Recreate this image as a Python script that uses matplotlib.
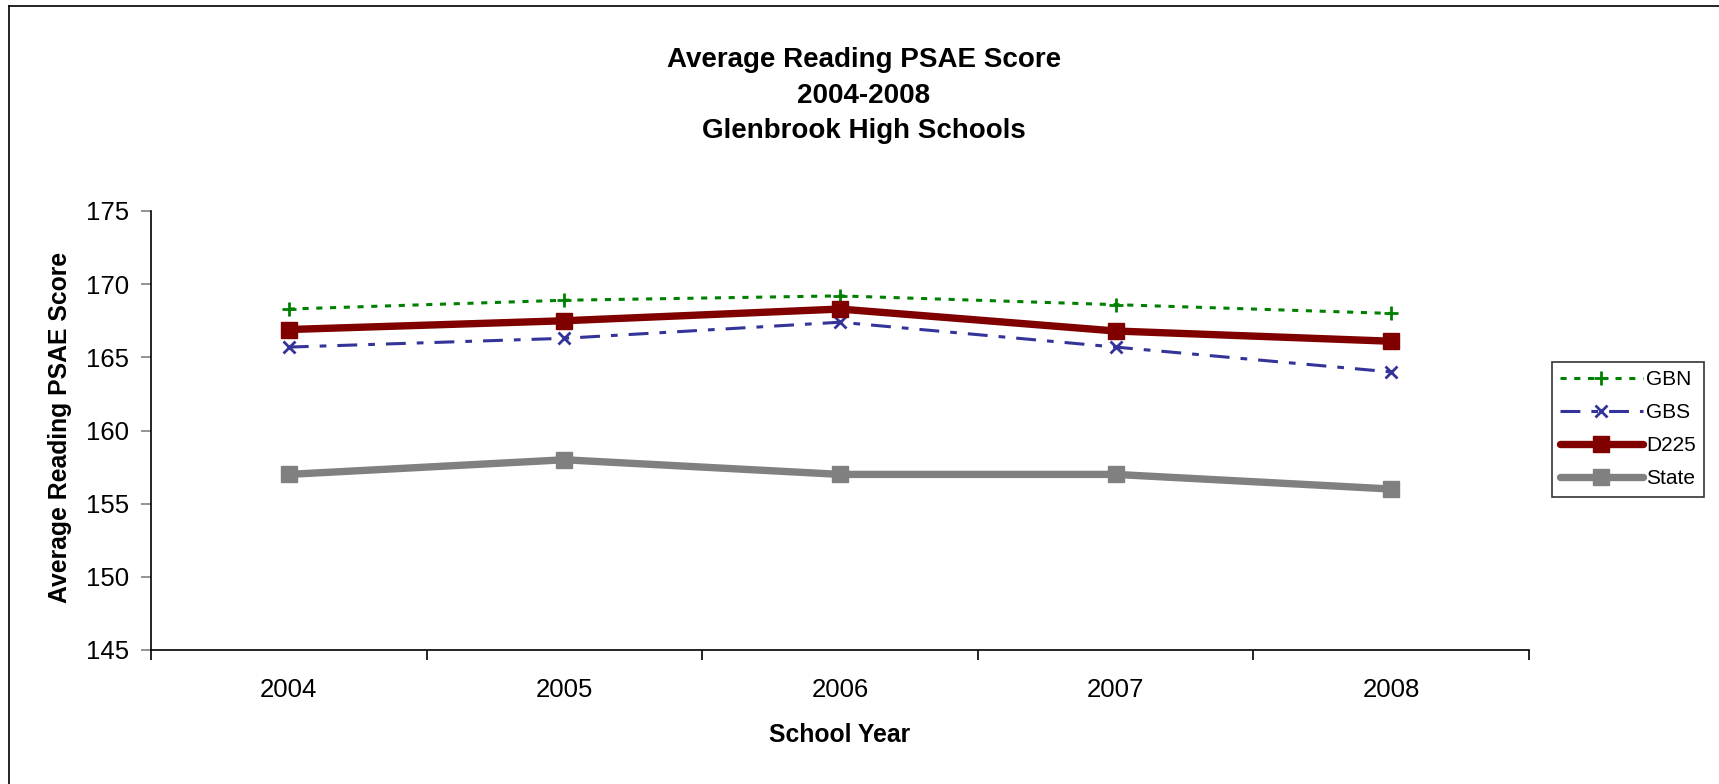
import matplotlib
matplotlib.use("Agg")
import matplotlib.pyplot as plt
from matplotlib.lines import Line2D
import numpy as np

years = ["2004", "2005", "2006", "2007", "2008"]
gbn = [168.3, 168.9, 169.2, 168.6, 168.0]
gbs = [165.7, 166.3, 167.4, 165.7, 164.0]
d225 = [166.9, 167.5, 168.3, 166.8, 166.1]
state = [157.0, 158.0, 157.0, 157.0, 156.0]
yticks = [145, 150, 155, 160, 165, 170, 175]

plt.rcParams['font.family'] = ['Liberation Sans', 'DejaVu Sans']

W, H = 1719, 784
fig = plt.figure(figsize=(W / 100, H / 100), dpi=100)
ax = fig.add_axes([151 / W, 1 - 650 / H, (1529 - 151) / W, (650 - 211) / H])

x = np.arange(len(years))
ax.plot(x, gbn, color='#008000', lw=2.2, ls=(0, (2, 2.5)), marker='+', ms=10, mew=2, label='GBN', zorder=3)
ax.plot(x, gbs, color='#333399', lw=2.2, ls=(0, (6.5, 3.6, 2.2, 3.6)), marker='x', ms=8, mew=2, label='GBS', zorder=3)
ax.plot(x, d225, color='#800000', lw=5.3, marker='s', ms=11.5, label='D225', zorder=4, solid_capstyle='round')
ax.plot(x, state, color='#808080', lw=5.3, marker='s', ms=11.5, label='State', zorder=2, solid_capstyle='round')

ax.set_xlim(-0.5, len(years) - 0.5)
ax.set_ylim(145, 175)
ax.set_yticks(yticks)
ax.set_yticklabels([str(v) for v in yticks], fontsize=18.5)
ax.set_xticks(x)
ax.set_xticklabels(years, fontsize=18.5)
ax.set_xticks(np.arange(-0.5, len(years)), minor=True)
ax.tick_params(axis='x', which='major', length=0, pad=20)
ax.tick_params(axis='x', which='minor', length=7, width=1.2, color='black', direction='out')
ax.tick_params(axis='y', which='major', length=7, width=1.2, color='#808080', direction='out', pad=9)

for s in ['top', 'right']:
    ax.spines[s].set_visible(False)
for s in ['left', 'bottom']:
    ax.spines[s].set_linewidth(1.2)
    ax.spines[s].set_color('black')

fig.text(864 / W, 1 - 67 / H, "Average Reading PSAE Score", ha='center', va='baseline', fontsize=20, fontweight='bold')
fig.text(864 / W, 1 - 103 / H, "2004-2008", ha='center', va='baseline', fontsize=20, fontweight='bold')
fig.text(864 / W, 1 - 138 / H, "Glenbrook High Schools", ha='center', va='baseline', fontsize=20, fontweight='bold')

fig.text(840 / W, 1 - 735 / H, "School Year", ha='center', va='center', fontsize=17.8, fontweight='bold')
fig.text(60 / W, 1 - 427 / H, "Average Reading PSAE Score", ha='center', va='center', rotation=90, fontsize=17.8, fontweight='bold')

leg = ax.legend(loc='upper left', bbox_to_anchor=(1552 / W, 1 - 362 / H), bbox_transform=fig.transFigure,
                fontsize=15, frameon=True, fancybox=False, edgecolor='black', handlelength=3.95,
                handletextpad=0.15, labelspacing=0.67, borderpad=0.4, borderaxespad=0, numpoints=1)
leg.get_frame().set_linewidth(1.2)

fig.add_artist(Line2D([8.5 / W, 8.5 / W], [0, 1 - 5.5 / H], transform=fig.transFigure, color='black', lw=1.2))
fig.add_artist(Line2D([8.5 / W, 1], [1 - 5.5 / H, 1 - 5.5 / H], transform=fig.transFigure, color='black', lw=1.2))

fig.savefig("out.png", dpi=100)
